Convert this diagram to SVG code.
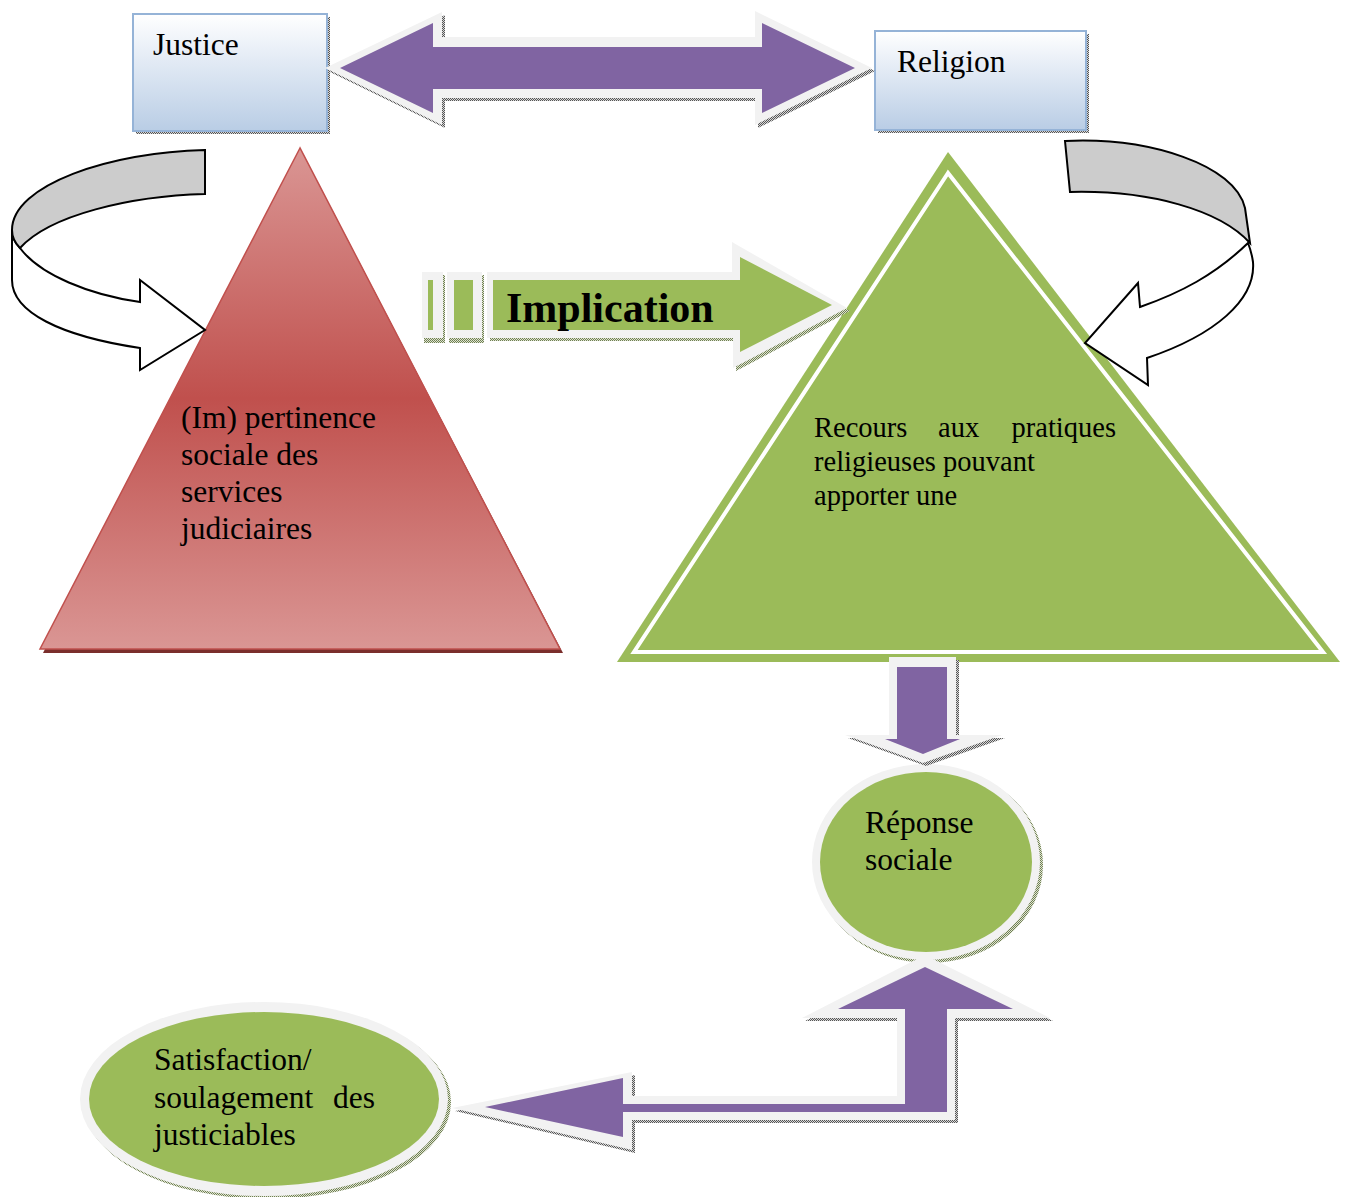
<svg xmlns="http://www.w3.org/2000/svg" width="1348" height="1197" viewBox="0 0 1348 1197">
<defs>
<style>
.t{font-family:"Liberation Serif","Times New Roman",serif;font-size:31.5px;fill:#000}
.tg{font-family:"Liberation Serif","Times New Roman",serif;font-size:28.5px;fill:#000}
.box{stroke:#95B3D7;stroke-width:2;fill:url(#boxGrad)}
.out{fill:#F2F2F2}
.pur{fill:#8064A2}
.grn{fill:#9BBB59}
.sh{fill:url(#dots)}
.shg{fill:url(#dotsG)}
.curl{stroke:#000;stroke-width:2;stroke-linejoin:miter}
</style>
<linearGradient id="boxGrad" x1="0" y1="0" x2="0" y2="1">
<stop offset="0" stop-color="#FFFFFF"/><stop offset="0.35" stop-color="#E6EDF6"/><stop offset="1" stop-color="#B9CDE5"/>
</linearGradient>
<linearGradient id="redGrad" gradientUnits="userSpaceOnUse" x1="0" y1="148" x2="0" y2="649">
<stop offset="0" stop-color="#DA9694"/><stop offset="0.5" stop-color="#C0504D"/><stop offset="1" stop-color="#DA9694"/>
</linearGradient>
<pattern id="dots" width="2" height="2" patternUnits="userSpaceOnUse">
<rect width="2" height="2" fill="#d8d8d8"/><rect width="1" height="1" fill="#555"/><rect x="1" y="1" width="1" height="1" fill="#555"/>
</pattern>
<pattern id="dotsG" width="2" height="2" patternUnits="userSpaceOnUse">
<rect width="2" height="2" fill="#dfe6cf"/><rect width="1" height="1" fill="#6f7d55"/><rect x="1" y="1" width="1" height="1" fill="#6f7d55"/>
</pattern>
</defs>
<rect width="1348" height="1197" fill="#FFFFFF"/>

<g id="node-red-triangle">
<polygon points="302,152 43,653 563,653" fill="#7A2E2C"/>
<polygon points="300,148 40,649 560,649" fill="url(#redGrad)" stroke="#C0504D" stroke-width="1.5"/>
<text class="t" x="181" y="428">(Im) pertinence</text>
<text class="t" x="181" y="465">sociale des</text>
<text class="t" x="181" y="502">services</text>
<text class="t" x="181" y="539">judiciaires</text>
</g>

<g id="node-green-triangle">
<polygon points="948,152 617,662 1340,662" class="grn"/>
<polygon points="948,173 634,652 1323,652" class="grn" stroke="#FFFFFF" stroke-width="4"/>
<text class="tg" x="814" y="437">Recours</text>
<text class="tg" x="938" y="437">aux</text>
<text class="tg" x="1116" y="437" text-anchor="end">pratiques</text>
<text class="tg" x="814" y="471">religieuses pouvant</text>
<text class="tg" x="814" y="505">apporter une</text>
</g>

<g id="node-justice">
<rect x="136" y="17" width="194" height="117" class="sh"/>
<rect x="133" y="14" width="194" height="117" class="box"/>
<text class="t" x="153" y="55">Justice</text>
</g>

<g id="node-religion">
<rect x="878" y="34" width="211" height="99" class="sh"/>
<rect x="875" y="31" width="211" height="99" class="box"/>
<text class="t" x="897" y="72">Religion</text>
</g>

<g id="node-reponse">
<ellipse cx="929" cy="865" rx="114" ry="98" class="shg"/>
<ellipse cx="926" cy="862" rx="114" ry="98" class="out"/>
<ellipse cx="926" cy="862" rx="106" ry="90" class="grn"/>
<text class="t" x="865" y="833">Réponse</text>
<text class="t" x="865" y="870">sociale</text>
</g>

<g id="node-satisfaction">
<ellipse cx="267" cy="1102" rx="184" ry="97" class="shg"/>
<ellipse cx="264" cy="1099" rx="184" ry="97" class="out"/>
<ellipse cx="264" cy="1099" rx="175" ry="87" class="grn"/>
<text class="t" x="154" y="1070">Satisfaction/</text>
<text class="t" x="154" y="1108">soulagement</text>
<text class="t" x="375" y="1108" text-anchor="end">des</text>
<text class="t" x="154" y="1145">justiciables</text>
</g>

<g id="connectors">
<g id="arrow-justice-religion">
<path class="sh" d="M328,71 L445,15 L445,40 L758,40 L758,14 L875,71 L758,128 L758,101 L445,101 L445,128 Z"/>
<path class="out" d="M325,68 L442,12 L442,37 L755,37 L755,11 L872,68 L755,125 L755,98 L442,98 L442,125 Z"/>
<path class="pur" d="M340,68 L433,23 L433,47 L762,47 L762,23 L855,68 L762,113 L762,89 L433,89 L433,113 Z"/>
</g>

<g id="arrow-implication">
<rect x="424" y="275" width="21" height="68" class="shg"/>
<rect x="449" y="275" width="35" height="68" class="shg"/>
<path class="shg" d="M490,275 L735,275 L735,245 L850,311 L736,371 L736,341 L490,341 Z"/>
<rect x="422" y="272" width="21" height="66" class="out"/>
<rect x="447" y="272" width="35" height="66" class="out"/>
<path class="out" d="M487,272 L732,272 L732,242 L847,308 L733,368 L733,338 L487,338 Z"/>
<rect x="428" y="280" width="5" height="50" class="grn"/>
<rect x="454" y="280" width="19" height="50" class="grn"/>
<path class="grn" d="M493,280 L740,280 L740,257 L832,305 L740,352 L740,330 L493,330 Z"/>
<text x="506" y="322" font-family="'Liberation Serif','Times New Roman',serif" font-size="42" font-weight="bold" fill="#000">Implication</text>
</g>

<g id="arrow-triangle-reponse">
<path class="sh" d="M892,660 L959,660 L959,738 L1005,738 L926,766 L848,738 L892,738 Z"/>
<path class="out" d="M889,657 L956,657 L956,735 L1002,735 L923,763 L845,735 L889,735 Z"/>
<path class="pur" d="M897,667 L947,667 L947,739 L960,739 L923,754 L885,739 L897,739 Z"/>
</g>

<g id="arrow-reponse-satisfaction">
<path class="sh" d="M455,1111 L635,1075 L635,1099 L900,1099 L900,1021 L805,1021 L928,958 L1053,1021 L958,1021 L958,1123 L635,1123 L635,1153 Z"/>
<path class="out" d="M452,1108 L632,1072 L632,1096 L897,1096 L897,1018 L802,1018 L925,955 L1050,1018 L955,1018 L955,1120 L632,1120 L632,1150 Z"/>
<path class="pur" d="M485,1107 L623,1078 L623,1104 L905,1104 L905,1009 L838,1009 L925,967 L1013,1009 L947,1009 L947,1112 L623,1112 L623,1137 Z"/>
</g>

<g id="arrow-curl-justice">
<path class="curl" fill="#FFFFFF" d="M20,248 C40,275 90,295 140,302 L140,280 L205,330 L140,370 L140,348 C60,336 12,312 12,280 L12,230 C12,238 15,243 20,248 Z"/>
<path class="curl" fill="#CCCCCC" d="M205,150 L205,194 C130,196 50,215 20,248 C14,242 12,236 12,230 C12,185 110,152 205,150 Z"/>
</g>

<g id="arrow-curl-religion">
<path class="curl" fill="#FFFFFF" d="M1248,243 C1215,275 1180,293 1140,307 L1138,283 L1085,343 L1148,385 L1147,358 C1215,335 1256,300 1253,262 C1252,255 1250,248 1248,243 Z"/>
<path class="curl" fill="#CCCCCC" d="M1065,141 C1150,137 1235,165 1245,208 L1250,243 C1220,210 1150,190 1070,192 Z"/>
</g>
</g>
</svg>
